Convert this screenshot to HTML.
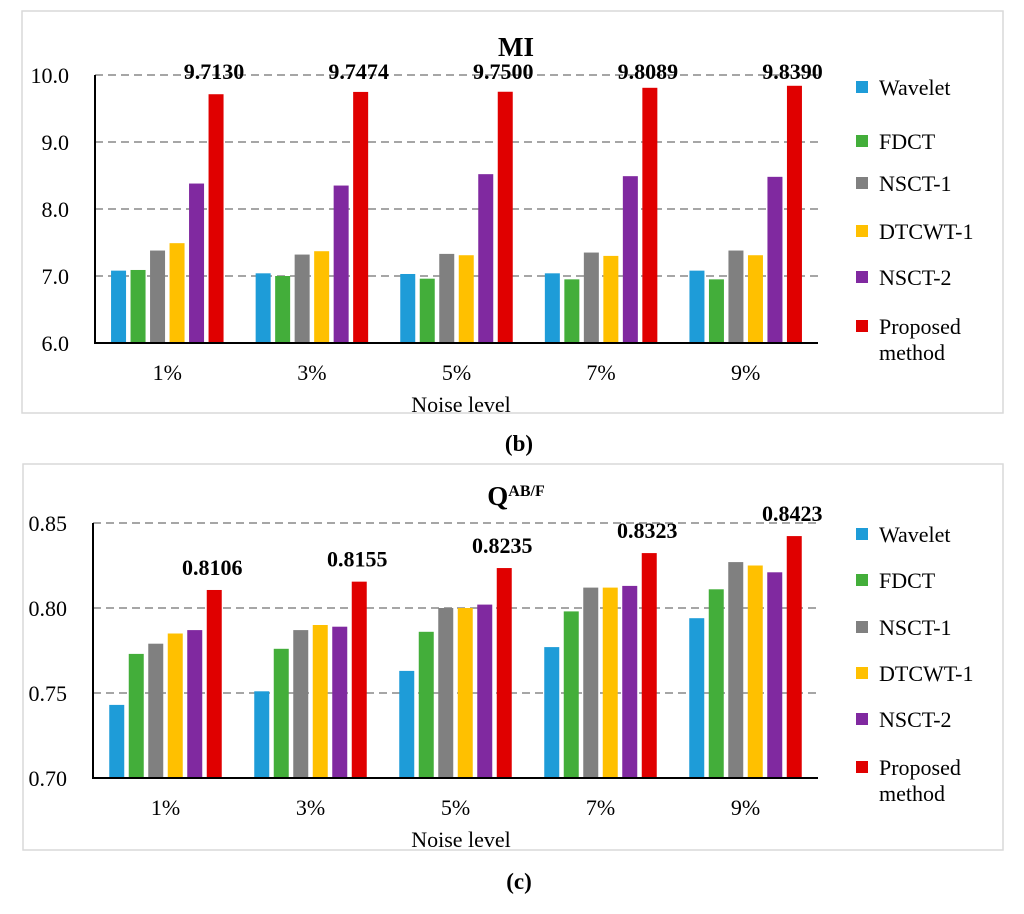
<!DOCTYPE html>
<html><head><meta charset="utf-8"><style>
body{margin:0;background:#fff;width:1024px;height:909px;overflow:hidden}
svg text{font-family:"Liberation Serif",serif}
</style></head><body>
<svg id="s" width="1024" height="909"></svg>
<script>
const categories=["1%","3%","5%","7%","9%"];
const seriesNames=["Wavelet","FDCT","NSCT-1","DTCWT-1","NSCT-2","Proposed method"];
const colors=["#1e9cd8","#43ae3a","#808080","#ffc000","#8029a0","#e00000"];
const miWavelet=[7.08,7.04,7.03,7.04,7.08];
const miFDCT=[7.09,7.00,6.96,6.95,6.95];
const miNSCT1=[7.38,7.32,7.33,7.35,7.38];
const miDTCWT1=[7.49,7.37,7.31,7.30,7.31];
const miNSCT2=[8.38,8.35,8.52,8.49,8.48];
const miProposed=[9.7130,9.7474,9.7500,9.8089,9.8390];
const miTicks=[6.0,7.0,8.0,9.0,10.0];
const qWavelet=[0.743,0.751,0.763,0.777,0.794];
const qFDCT=[0.773,0.776,0.786,0.798,0.811];
const qNSCT1=[0.779,0.787,0.800,0.812,0.827];
const qDTCWT1=[0.785,0.790,0.800,0.812,0.825];
const qNSCT2=[0.787,0.789,0.802,0.813,0.821];
const qProposed=[0.8106,0.8155,0.8235,0.8323,0.8423];
const qTicks=[0.70,0.75,0.80,0.85];
const NS="http://www.w3.org/2000/svg";
const svg=document.getElementById('s');
function mk(t,a,p){const e=document.createElementNS(NS,t);for(const k in a)e.setAttribute(k,a[k]);(p||svg).appendChild(e);return e;}
function chart(o){
 const g=mk('g',{});
 
 
 const fr=mk('rect',{x:o.fx,y:o.fy,width:o.fw,height:o.fh,fill:'#fff',stroke:'#d9d9d9','stroke-width':1.5},g);
 
 
 const y=v=>o.y0-(v-o.min)/(o.max-o.min)*(o.y0-o.y1);
 const cw=(o.xr-o.x0)/categories.length;
 const x=i=>o.x0+cw*i;
 o.ticks.forEach(t=>{
  if(t!==o.min){const l=mk('line',{x1:o.x0,x2:o.xr,y1:y(t),y2:y(t),stroke:'#a6a6a6','stroke-width':2,'stroke-dasharray':'8,5'},g);
  
  }
  const tx=mk('text',{x:o.x0-26,y:y(t)+8,'text-anchor':'end','font-size':22},g);tx.textContent=o.fmt(t);
  
  
 });
 const bw=15,pitch=19.5;
 categories.forEach((c,i)=>{
  const start=x(i)+cw/2-pitch*3+2.25;
  o.series.forEach((s,j)=>{
   const r=mk('rect',{x:start+pitch*j,y:y(s[i]),width:bw,height:o.y0-y(s[i]),fill:colors[j]},g);
   
   
  });
  const lb=mk('text',{x:start+pitch*5+bw/2-2,y:o.fixedLbl?o.fixedLbl:y(o.series[5][i])-o.lblOff,'text-anchor':'middle','font-size':22,'font-weight':'bold'},g);
  lb.textContent=o.lfmt(o.series[5][i]);
  
  
  const ct=mk('text',{x:x(i)+cw/2,y:o.y0+37,'text-anchor':'middle','font-size':22},g);ct.textContent=c;
  
  
 });
 const ax=mk('path',{d:`M${o.x0},${o.y1}V${o.y0}H${o.xr}`,fill:'none',stroke:'#000','stroke-width':2},g);
 
 
 const xt=mk('text',{x:461,y:o.y0+69,'text-anchor':'middle','font-size':22},g);xt.textContent='Noise level';
 
 
 const tt=mk('text',{x:516,y:o.titleY,'text-anchor':'middle','font-size':27,'font-weight':'bold'},g);
 tt.innerHTML=o.title;
 
 
 o.legY.forEach((ly,j)=>{
  const lg=mk('g',{},g);
  
  
  mk('rect',{x:856,y:ly-6,width:12,height:12,fill:colors[j]},lg);
  const t=mk('text',{x:879,y:ly+8,'font-size':22},lg);
  if(j===5){t.innerHTML='<tspan x="879">Proposed</tspan><tspan x="879" dy="26">method</tspan>';}
  else t.textContent=seriesNames[j];
 });
 const cap=mk('text',{x:519,y:o.capY,'text-anchor':'middle','font-size':23,'font-weight':'bold'});
 cap.innerHTML='(<tspan>'+o.cap+'</tspan>)';
 
 
}
chart({name:'mi-chart',fx:22,fy:11,fw:981,fh:402,x0:95,xr:818,y0:343,y1:75,min:6,max:10,ticks:miTicks,
 series:[miWavelet,miFDCT,miNSCT1,miDTCWT1,miNSCT2,miProposed],fmt:t=>t.toFixed(1),lfmt:v=>v.toFixed(4),
 lblOff:0,fixedLbl:79,title:'MI',titleY:56,legY:[87,141,183,231,277,326],cap:'b',capY:451});
chart({name:'qabf-chart',fx:23,fy:464,fw:980,fh:386,x0:93,xr:818,y0:778,y1:523,min:0.70,max:0.85,ticks:qTicks,
 series:[qWavelet,qFDCT,qNSCT1,qDTCWT1,qNSCT2,qProposed],fmt:t=>t.toFixed(2),lfmt:v=>v.toFixed(4),
 lblOff:15,title:'Q<tspan font-size="16" dy="-9">AB/F</tspan>',titleY:505,legY:[534,580,627,673,719,767],cap:'c',capY:889});
</script>
</body></html>
